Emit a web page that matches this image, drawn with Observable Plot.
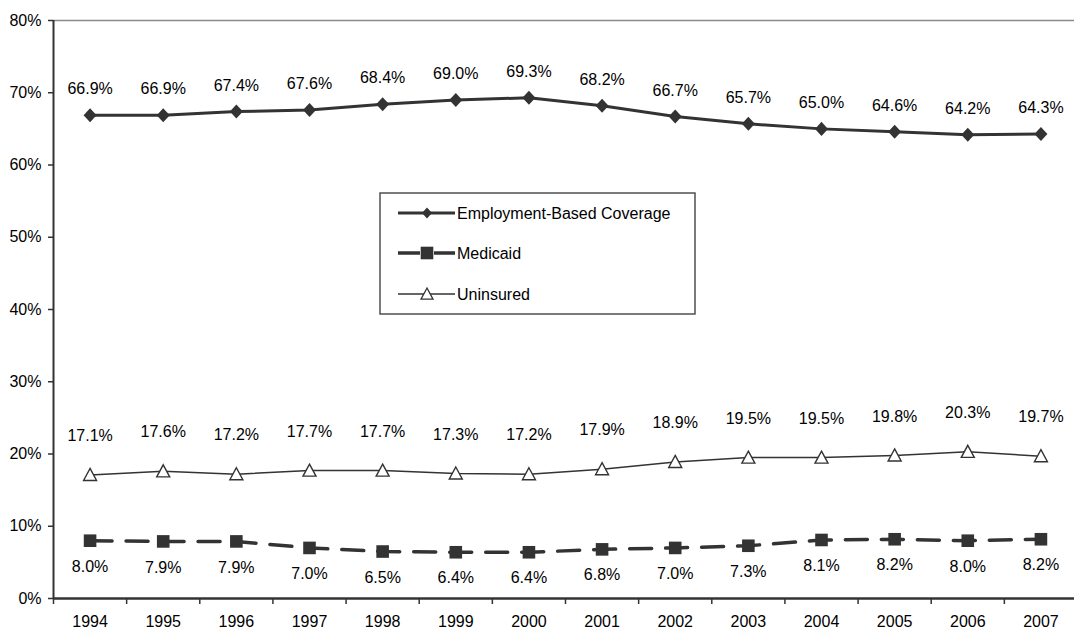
<!DOCTYPE html>
<html>
<head>
<meta charset="utf-8">
<script src="https://cdn.jsdelivr.net/npm/d3@7"></script>
<script src="https://cdn.jsdelivr.net/npm/@observablehq/plot@0.6"></script>
<style>
  html, body { margin: 0; padding: 0; background: #fff; }
  #wrap { position: relative; width: 1074px; height: 630px; overflow: hidden; font-family: "Liberation Sans", Arial, sans-serif; }
</style>
</head>
<body>
<div id="wrap"></div>
<script>
// ---- data ----
const years = [1994, 1995, 1996, 1997, 1998, 1999, 2000, 2001, 2002, 2003, 2004, 2005, 2006, 2007];
const employment = [66.9, 66.9, 67.4, 67.6, 68.4, 69.0, 69.3, 68.2, 66.7, 65.7, 65.0, 64.6, 64.2, 64.3];
const medicaid = [8.0, 7.9, 7.9, 7.0, 6.5, 6.4, 6.4, 6.8, 7.0, 7.3, 8.1, 8.2, 8.0, 8.2];
const uninsured = [17.1, 17.6, 17.2, 17.7, 17.7, 17.3, 17.2, 17.9, 18.9, 19.5, 19.5, 19.8, 20.3, 19.7];
const yTicks = [0, 10, 20, 30, 40, 50, 60, 70, 80];
const seriesNames = ["Employment-Based Coverage", "Medicaid", "Uninsured"];

// ---- build tables ----
const toRows = (vals) => years.map((year, i) => ({ year, value: vals[i] }));
const empData = toRows(employment);
const medData = toRows(medicaid);
const uniData = toRows(uninsured);
const boundaries = years.map(y => y - 0.5).concat([years[years.length - 1] + 0.5]);

const INK = "#333";
const fmt = d => d.value.toFixed(1) + "%";

// custom symbols: r (plot) -> half-size
const half = size => Math.sqrt(size / Math.PI);
const diamondSym = { draw(ctx, size) { const r = half(size); ctx.moveTo(0, -r * 1.08); ctx.lineTo(r, 0); ctx.lineTo(0, r * 1.08); ctx.lineTo(-r, 0); ctx.closePath(); } };
const squareSym = { draw(ctx, size) { const r = half(size); ctx.rect(-r, -r, 2 * r, 2 * r); } };
const triSym = { draw(ctx, size) { const r = half(size); ctx.moveTo(0, -r); ctx.lineTo(r, r * 0.85); ctx.lineTo(-r, r * 0.85); ctx.closePath(); } };

const chart = Plot.plot({
  width: 1074,
  height: 630,
  marginLeft: 53,
  marginRight: 0,
  marginTop: 20,
  marginBottom: 32,
  style: { fontFamily: "'Liberation Sans', Arial, sans-serif", fontSize: "16px", background: "#fff", color: "#000" },
  x: { type: "linear", domain: [boundaries[0], boundaries[boundaries.length - 1]], range: [53, 1077], label: null },
  y: { domain: [0, 80], label: null },
  marks: [
    Plot.ruleY([80], { stroke: "#8a8a8a", strokeWidth: 1.3 }),
    Plot.axisY({ ticks: yTicks, tickFormat: d => d + "%", tickSize: 5, tickPadding: 7, stroke: INK, strokeWidth: 1.5, fill: "#000", fontSize: 16, label: null }),
    Plot.axisX({ ticks: boundaries, tickFormat: () => "", tickSize: 6, stroke: INK, strokeWidth: 1.5, label: null }),
    Plot.axisX({ ticks: years, tickFormat: d3.format("d"), tickSize: 0, tickPadding: 17, fill: "#000", fontSize: 16, label: null }),
    Plot.ruleX([boundaries[0]], { stroke: INK, strokeWidth: 2 }),
    Plot.ruleY([0], { stroke: INK, strokeWidth: 2.5 }),
    Plot.line(uniData, { x: "year", y: "value", stroke: INK, strokeWidth: 1.5 }),
    Plot.line(medData, { x: "year", y: "value", stroke: INK, strokeWidth: 3.5, strokeDasharray: "22,14" }),
    Plot.line(empData, { x: "year", y: "value", stroke: INK, strokeWidth: 3 }),
    Plot.dot(empData, { x: "year", y: "value", symbol: diamondSym, r: 6.5, fill: INK, stroke: "none" }),
    Plot.dot(medData, { x: "year", y: "value", symbol: squareSym, r: 6.3, fill: INK, stroke: "none" }),
    Plot.dot(uniData, { x: "year", y: "value", symbol: triSym, r: 6.5, fill: "#fff", stroke: INK, strokeWidth: 1.4 }),
    Plot.text(empData, { x: "year", y: "value", text: fmt, dy: -26, fill: "#000", fontSize: 16 }),
    Plot.text(uniData, { x: "year", y: "value", text: fmt, dy: -39, fill: "#000", fontSize: 16 }),
    Plot.text(medData, { x: "year", y: "value", text: fmt, dy: 26, fill: "#000", fontSize: 16 })
  ]
});
document.getElementById("wrap").appendChild(chart);

// ---- legend (inside plot area) ----
const legend = d3.create("svg")
  .attr("width", 318)
  .attr("height", 124)
  .style("position", "absolute").style("left", "379px").style("top", "192px");
legend.append("rect").attr("x", 1).attr("y", 1).attr("width", 315).attr("height", 121)
  .attr("fill", "#fff").attr("stroke", "#444").attr("stroke-width", 1.4);
const rowY = [21, 61, 102];
const styles = [
  { w: 3, dash: null, sym: d3.symbol(diamondSym, Math.PI * 5 * 5), fill: INK, stroke: "none" },
  { w: 3.5, dash: "22,14", sym: d3.symbol(squareSym, Math.PI * 6.3 * 6.3), fill: INK, stroke: "none" },
  { w: 1.5, dash: null, sym: d3.symbol(triSym, Math.PI * 6 * 6), fill: "#fff", stroke: INK }
];
seriesNames.forEach((name, i) => {
  const g = legend.append("g").attr("transform", `translate(0,${rowY[i]})`);
  const s = styles[i];
  g.append("line").attr("x1", 19).attr("x2", 76).attr("y1", 0).attr("y2", 0)
    .attr("stroke", INK).attr("stroke-width", s.w).attr("stroke-dasharray", s.dash);
  g.append("path").attr("d", s.sym()).attr("transform", "translate(48,0)")
    .attr("fill", s.fill).attr("stroke", s.stroke).attr("stroke-width", 1.3);
  g.append("text").attr("x", 78).attr("y", 0).attr("dy", "0.35em")
    .attr("font-family", "'Liberation Sans', Arial, sans-serif").attr("font-size", 16).attr("fill", "#000")
    .text(name);
});
document.getElementById("wrap").appendChild(legend.node());
</script>
</body>
</html>
